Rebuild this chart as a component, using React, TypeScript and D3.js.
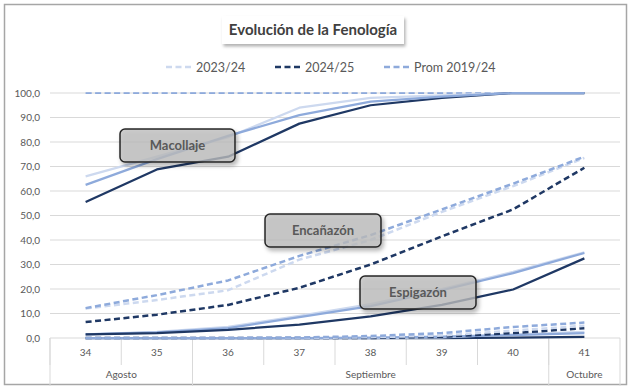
import React from "react";
import * as d3 from "d3";

// semanas y meses del eje x
const weeks = ["34", "35", "36", "37", "38", "39", "40", "41"];
const months = ["Agosto", "Septiembre", "Octubre"];
const monthSpans = [2, 5, 1];

const seasons = ["2023/24", "2024/25", "Prom 2019/24"];
const seasonColors = ["#cdd9ef", "#1f3864", "#8eaadb"];

// Emergencia (dashed, 100%) - solo se ve el promedio
const emerg2324 = [100, 100, 100, 100, 100, 100, 100, 100];
const emergProm = [100, 100, 100, 100, 100, 100, 100, 100];

// Macollaje (solid)
const macollaje2324 = [66, 74, 82, 94, 98, 99, 100, 100];
const macollaje2425 = [55.5, 68.8, 74, 87.5, 95, 98, 100, 100];
const macollajeProm = [62.5, 73, 82.5, 91, 96.5, 98.5, 100, 100];

// Encañazón (dashed)
const encanazon2324 = [12, 15.5, 19.5, 32, 40, 51.5, 62, 73.5];
const encanazon2425 = [6.5, 9.5, 13.5, 20.5, 30, 41.5, 52.5, 69.5];
const encanazonProm = [12.2, 17.5, 23.5, 33.5, 42, 52.5, 63, 74];

// Espigazón (solid)
const espigazon2324 = [1.5, 2.5, 4.5, 9, 13.8, 20, 27, 35];
const espigazon2425 = [1.5, 2, 3.3, 5.5, 8.8, 13.5, 19.8, 32.5];
const espigazonProm = [1.5, 2.3, 4, 8.5, 13, 19.5, 26.5, 34.7];

// Antesis (dashed)
const antesis2324 = [0, 0, 0, 0, 0.3, 1, 3, 5];
const antesis2425 = [0, 0, 0, 0, 0, 0.5, 2, 4];
const antesisProm = [0, 0, 0, 0.2, 0.8, 2, 4.5, 6.3];

// Madurez (solid)
const madurez2324 = [0, 0, 0, 0, 0, 0.3, 1.5, 2.5];
const madurez2425 = [0, 0, 0, 0, 0, 0, 0.2, 0.5];
const madurezProm = [0, 0, 0, 0, 0.2, 0.6, 1.2, 2];

const yTicks = [0, 10, 20, 30, 40, 50, 60, 70, 80, 90, 100];

const font = "Lato, 'Open Sans', sans-serif";

const App = () => {
  const left = 50;
  const right = 620;
  const top = 93;
  const bottom = 338;

  const x = d3.scaleBand<string>().domain(weeks).range([left, right]);
  const y = d3.scaleLinear().domain([0, 100]).range([bottom, top]);
  const cx = (i: number) => (x(weeks[i]) as number) + x.bandwidth() / 2;

  const line = d3
    .line<number>()
    .x((_, i) => cx(i))
    .y((d) => y(d));

  const light = seasonColors[0];
  const dark = seasonColors[1];
  const prom = seasonColors[2];

  // draw order: bottom first
  const series: { data: number[]; color: string; dashed: boolean; w?: number }[] = [
    { data: emerg2324, color: light, dashed: true, w: 1.75 },
    { data: emergProm, color: prom, dashed: true, w: 1.75 },
    { data: madurez2425, color: dark, dashed: false },
    { data: madurez2324, color: light, dashed: false },
    { data: madurezProm, color: prom, dashed: false },
    { data: antesis2425, color: dark, dashed: true },
    { data: antesis2324, color: light, dashed: true },
    { data: antesisProm, color: prom, dashed: true },
    { data: espigazon2324, color: light, dashed: false },
    { data: espigazonProm, color: prom, dashed: false },
    { data: espigazon2425, color: dark, dashed: false },
    { data: encanazon2324, color: light, dashed: true },
    { data: encanazonProm, color: prom, dashed: true },
    { data: encanazon2425, color: dark, dashed: true },
    { data: macollaje2324, color: light, dashed: false },
    { data: macollaje2425, color: dark, dashed: false },
    { data: macollajeProm, color: prom, dashed: false },
  ];

  // month group boundaries
  const bounds: number[] = [0];
  monthSpans.forEach((s) => bounds.push(bounds[bounds.length - 1] + s));
  const edge = (k: number) =>
    k >= weeks.length ? right : (x(weeks[k]) as number);

  const callouts = [
    { label: "Macollaje", x0: 120, y0: 129, w: 115, h: 33 },
    { label: "Encañazón", x0: 265, y0: 214, w: 116, h: 33 },
    { label: "Espigazón", x0: 360, y0: 276, w: 116, h: 33 },
  ];

  const legendX = [166, 275, 384];

  return (
    <svg
      width={631}
      height={391}
      style={{ position: "absolute", left: 0, top: 0, background: "#fff" }}
      fontFamily={font}
    >
      <defs>
        <filter id="shadow" x="-20%" y="-30%" width="150%" height="170%">
          <feDropShadow dx="2" dy="3" stdDeviation="2" floodColor="#000" floodOpacity="0.35" />
        </filter>
        <filter id="tshadow" x="-20%" y="-30%" width="150%" height="180%">
          <feDropShadow dx="1.5" dy="2.5" stdDeviation="1.8" floodColor="#000" floodOpacity="0.3" />
        </filter>
      </defs>

      {/* chart border */}
      <rect x={4.5} y={4.5} width={622} height={380} fill="#fff" stroke="#a6a6a6" strokeWidth={1.5} />

      {/* title */}
      <rect x={222} y={16} width={182} height={28} fill="#fff" filter="url(#tshadow)" />
      <text x={313} y={35} textAnchor="middle" fontSize={15} fontWeight="bold" fill="#404040">
        Evolución de la Fenología
      </text>

      {/* legend */}
      {seasons.map((s, i) => (
        <g key={s}>
          <line
            x1={legendX[i]}
            x2={legendX[i] + 27}
            y1={67}
            y2={67}
            stroke={seasonColors[i]}
            strokeWidth={2.5}
            strokeDasharray="6,3.5"
          />
          <text x={legendX[i] + 30} y={71.5} fontSize={12.5} fill="#595959">
            {s}
          </text>
        </g>
      ))}

      {/* grid + y axis */}
      {yTicks.map((t) => (
        <g key={t}>
          <line x1={left} x2={right} y1={y(t)} y2={y(t)} stroke="#d9d9d9" strokeWidth={1} />
          <text x={40} y={y(t) + 3.5} textAnchor="end" fontSize={10} fill="#595959">
            {d3.format(".1f")(t).replace(".", ",")}
          </text>
        </g>
      ))}

      {/* x axis ticks */}
      {weeks.map((w, i) => (
        <g key={w}>
          <line x1={edge(i)} x2={edge(i)} y1={bottom} y2={365} stroke="#d9d9d9" />
          <text x={cx(i)} y={355.5} textAnchor="middle" fontSize={10} fill="#595959">
            {w}
          </text>
        </g>
      ))}
      {bounds.map((b) => (
        <line key={"b" + b} x1={edge(b)} x2={edge(b)} y1={bottom} y2={386} stroke="#d9d9d9" />
      ))}
      {months.map((m, k) => (
        <text
          key={m}
          x={(edge(bounds[k]) + edge(bounds[k + 1])) / 2}
          y={377.5}
          textAnchor="middle"
          fontSize={10}
          fill="#595959"
        >
          {m}
        </text>
      ))}

      {/* series */}
      {series.map((s, i) => (
        <path
          key={i}
          d={line(s.data) || ""}
          fill="none"
          stroke={s.color}
          strokeWidth={s.w ?? (s.dashed ? 2.5 : 2.25)}
          strokeDasharray={s.dashed ? "6,3.5" : undefined}
          strokeLinejoin="round"
        />
      ))}

      {/* callouts */}
      {callouts.map((c) => (
        <g key={c.label}>
          <rect
            x={c.x0}
            y={c.y0}
            width={c.w}
            height={c.h}
            rx={5}
            fill="#bfbfbf"
            fillOpacity={0.75}
            stroke="#262626"
            strokeWidth={1.5}
            filter="url(#shadow)"
          />
          <text
            x={c.x0 + c.w / 2}
            y={c.y0 + c.h / 2 + 4.5}
            textAnchor="middle"
            fontSize={13}
            fontWeight="bold"
            fill="#595959"
          >
            {c.label}
          </text>
        </g>
      ))}
    </svg>
  );
};

export default App;
